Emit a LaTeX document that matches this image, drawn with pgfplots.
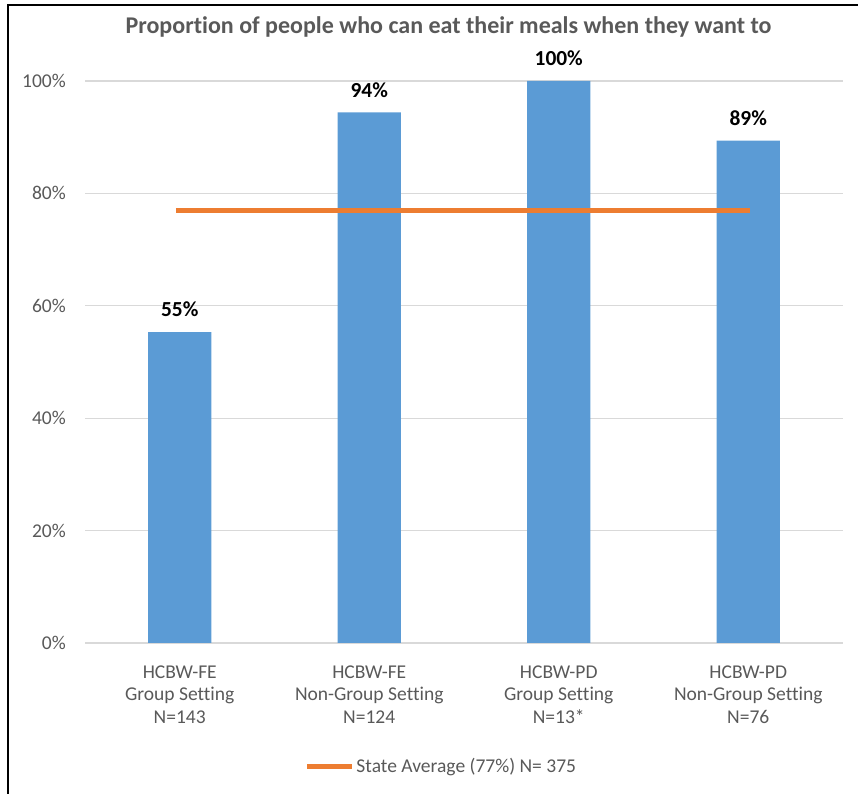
\documentclass[border=0pt]{standalone}
\usepackage{pgfplots}
\pgfplotsset{compat=1.18}
\usepackage{fontspec}
\setmainfont{Carlito}[Ligatures={NoCommon}]
\definecolor{barblue}{HTML}{5B9BD5}
\definecolor{lineorange}{HTML}{ED7D31}
\definecolor{txtgrey}{HTML}{595959}
\definecolor{gridgrey}{HTML}{D9D9D9}
\begin{document}
\begin{tikzpicture}
\path[use as bounding box] (0bp,0bp) rectangle (858bp,794bp);
\draw[black, line width=2bp] (8bp,0bp) -- (8bp,789bp) -- (858bp,789bp);
\node[text=txtgrey, font=\fontsize{24.1}{28}\selectfont\bfseries] at (448.5bp,767bp) {Proportion of people who can eat their meals when they want to};
\begin{axis}[
  at={(85bp,151bp)}, anchor=south west, scale only axis,
  width=758bp, height=562bp,
  xmin=-0.5, xmax=3.5, ymin=0, ymax=100,
  clip=false,
  axis line style={draw=none},
  major tick length=0pt,
  ymajorgrids, major grid style={gridgrey, line width=1.3bp},
  ytick={0,20,40,60,80,100},
  yticklabel={\pgfmathprintnumber{\tick}\%},
  /pgf/number format/assume math mode=true,
  yticklabel style={text=txtgrey, font=\fontsize{19.6}{23}\selectfont, anchor=east, inner sep=0pt, xshift=-19bp},
  xtick={0,1,2,3},
  xticklabels={{HCBW-FE\\Group Setting\\N=143},{HCBW-FE\\Non-Group Setting\\N=124},{HCBW-PD\\Group Setting\\N=13*},{HCBW-PD\\Non-Group Setting\\N=76}},
  xticklabel style={align=center, text=txtgrey, font=\fontsize{19.6}{22.5}\selectfont, anchor=north, inner sep=0pt, yshift=-22.5bp},
  legend style={at={(0.470,-0.219)}, anchor=center, draw=none, fill=none, font=\fontsize{19.6}{23}\selectfont, text=txtgrey, inner sep=0pt, nodes={inner xsep=1.5bp}},
  legend image code/.code={\draw[#1] (0bp,0bp) -- (45bp,0bp);},
]
\addplot[ybar, fill=barblue, draw=none, bar width=63.3bp, forget plot,
  nodes near coords={\pgfmathprintnumber[fixed,precision=0]{\pgfplotspointmeta}\%},
  every node near coord/.style={font=\fontsize{21.5}{25}\selectfont\bfseries, text=black, anchor=south, inner sep=0pt, yshift=15bp}]
  coordinates {(0,55.3) (1,94.4) (2,100) (3,89.4)};
\addplot[lineorange, line width=5bp] coordinates {(-0.02,77) (3.01,77)};
\addlegendentry{State Average (77\%) N= 375}
\end{axis}
\end{tikzpicture}
\end{document}
